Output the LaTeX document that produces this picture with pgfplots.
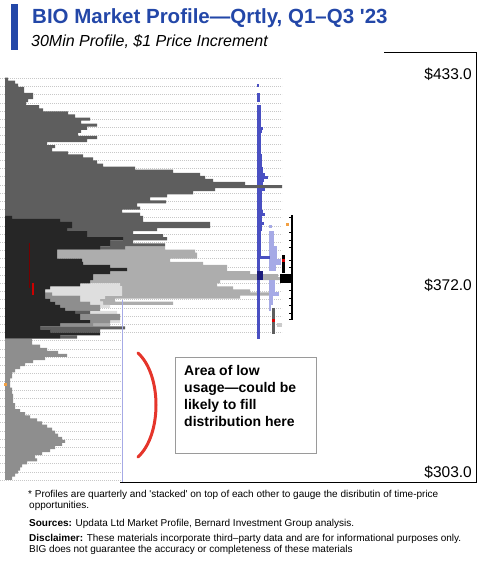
\documentclass[border=0pt]{standalone}
\usepackage{pgfplots}
\pgfplotsset{compat=1.18}
\usepackage{pgfplotstable}
\usepackage{fontspec}
\setmainfont{Liberation Sans}
\definecolor{titleblue}{HTML}{2347A8}
\definecolor{cB}{HTML}{262626}
\definecolor{cD}{HTML}{5E5E5E}
\definecolor{cM}{HTML}{8E8E8E}
\definecolor{cV}{HTML}{DEDEDE}
\definecolor{cL}{HTML}{ADADAD}
\definecolor{cBlue}{HTML}{4A50C2}
\definecolor{cNavy}{HTML}{1C1C7C}
\definecolor{cLBlue}{HTML}{A6AAE6}
\definecolor{gridc}{HTML}{C8C8C8}
\definecolor{boxgray}{HTML}{9A9A9A}
\definecolor{bracketred}{HTML}{E5352B}
\definecolor{orangedot}{HTML}{F2A043}

% profile rows: price, then segment lengths (px) black, dark, medium, very light, light
\pgfplotstableread{
p B D M V L
431 0 3 0 0 0
430 0 10 0 0 0
429 0 13 0 0 0
428 0 19 0 0 0
427 0 19 0 0 0
426 0 28 0 0 0
425 0 28 0 0 0
424 0 23 0 0 0
423 0 21 0 0 0
422 0 34 0 0 0
421 0 38 0 0 0
420 0 63 0 0 0
419 0 70 0 0 0
418 0 85 0 0 0
417 0 76 0 0 0
416 0 92 0 0 0
415 0 82 0 0 0
414 0 76 0 0 0
413 0 73 0 0 0
412 0 92 0 0 0
411 0 82 0 0 0
410 0 42 0 0 0
409 0 50 0 0 0
408 0 47 0 0 0
407 0 63 0 0 0
406 0 78 0 0 0
405 0 88 0 0 0
404 0 92 0 0 0
403 0 98 0 0 0
402 0 130 0 0 0
401 0 168 0 0 0
400 0 195 0 0 0
399 0 200 0 0 0
398 0 208 0 0 0
397 0 240 0 0 0
396 0 277 0 0 0
395 0 210 0 0 0
394 0 188 0 0 0
393 0 162 0 0 0
392 0 145 0 0 0
391 0 161 0 0 0
390 0 132 0 0 0
389 0 135 0 0 0
388 0 117 0 0 0
387 0 135 0 0 0
386 7 131 0 0 0
385 55 83 0 0 0
384 67 138 0 0 0
383 67 138 0 0 0
382 62 90 0 0 0
381 82 46 0 0 0
380 82 76 0 0 0
379 118 44 0 0 0
378 105 23 0 0 0
377 105 55 0 0 0
376 95 25 0 0 40
375 52 0 0 0 138
374 52 0 0 0 140
373 52 0 0 0 140
372 77 0 0 0 88
371 78 0 0 0 120
370 105 0 0 0 117
369 122 0 0 0 100
368 105 0 0 0 140
367 88 0 0 0 185
366 88 0 0 0 189
365 85 0 0 0 130
364 75 0 0 40 97
363 45 0 0 72 111
362 40 0 0 77 128
361 40 0 7 70 150
360 40 0 35 25 135
359 45 0 30 20 15
358 50 0 35 13 70
357 55 0 40 10 0
356 60 0 35 0 0
355 70 15 0 27 0
354 75 0 40 0 0
353 75 0 40 0 0
352 85 0 20 10 0
351 55 0 33 0 17
350 35 85 0 0 0
349 45 50 0 0 0
348 95 0 0 0 0
347 55 17 0 0 0
346 0 0 27 0 0
345 0 0 27 0 0
344 0 0 35 0 0
343 0 0 42 0 0
342 0 0 53 0 0
341 0 0 62 0 0
340 0 0 40 0 0
339 0 0 28 0 0
338 0 0 20 0 0
337 0 0 15 0 0
336 0 0 10 0 0
335 0 0 7 0 0
334 0 0 7 0 0
333 0 0 5 0 0
332 0 0 5 0 0
331 0 0 5 0 0
330 0 0 7 0 0
329 0 0 7 0 0
328 0 0 8 0 0
327 0 0 8 0 0
326 0 0 8 0 0
325 0 0 10 0 0
324 0 0 10 0 0
323 0 0 15 0 0
322 0 0 20 0 0
321 0 0 25 0 0
320 0 0 32 0 0
319 0 0 37 0 0
318 0 0 42 0 0
317 0 0 47 0 0
316 0 0 50 0 0
315 0 0 53 0 0
314 0 0 57 0 0
313 0 0 60 0 0
312 0 0 57 0 0
311 0 0 50 0 0
310 0 0 45 0 0
309 0 0 37 0 0
308 0 0 30 0 0
307 0 0 32 0 0
306 0 0 22 0 0
305 0 0 17 0 0
304 0 0 15 0 0
303 0 0 13 0 0
302 0 0 10 0 0
301 0 0 7 0 0
}\prof

\pgfplotstableread{
p x0 w
429 252 2
426 252 3
425 252 3
424 252 3
422 252 4
421 252 4
420 252 4
419 252 4
418 252 4
417 252 4
416 252 4
415 252 6
414 252 5
413 252 4
412 252 4
411 252 4
410 252 4
409 252 4
408 252 4
407 252 4
406 252 5
405 252 5
404 252 5
403 252 5
402 252 6
401 252 6
400 252 8
399 252 11
398 252 7
397 252 6
395 252 8
394 252 5
393 252 5
392 252 5
391 252 5
390 252 5
389 252 5
388 252 6
387 252 8
386 252 5
385 252 5
384 252 7
383 252 5
382 252 5
381 252 4
380 252 4
379 252 4
378 252 4
377 252 4
376 252 4
375 252 4
374 252 4
373 252 13
372 252 3
371 252 3
370 252 3
369 252 3
365 252 3
364 252 3
363 252 3
362 252 3
361 252 3
360 252 3
359 252 3
358 252 3
357 252 3
356 252 3
355 252 3
354 252 3
353 252 3
352 252 3
351 252 3
350 252 3
349 252 3
348 252 3
347 252 3
}\blu

\pgfplotstableread{
p x0 w
368 252 6
367 252 6
366 252 6
}\navy

\pgfplotstableread{
p x0 w
383 264 3
381 264 5
380 264 5
379 264 5
378 264 5
377 264 5
376 264 8
375 264 8
374 264 8
373 264 8
372 264 12
371 264 12
370 264 7
369 264 7
365 264 6
364 264 6
363 264 6
362 264 6
361 264 10
360 264 4
359 264 4
358 264 4
357 264 2
356 264 2
}\lblu

\pgfplotstableread{
p x0 w
386.1 284 3
381.2 284 3
378.6 284 3
376.3 284 3
372.1 284 3
369.8 284 3
362.3 284 3
359.7 284 3
357.4 284 3
354.8 284 3
352.9 284 3
}\tks

\pgfplotsset{base/.style={scale only axis, width=476pt, height=430pt,
  xmin=-5, xmax=471, ymin=299.77, ymax=439.84, hide axis, clip=false,
  at={(0pt,-482pt)}, anchor=south west},
  rowbar/.style={draw=none, mark=none, forget plot, error bars/.cd, x dir=plus, x explicit, error mark=none,
  error bar style={line width=3.07pt, draw=#1}}}

\begin{document}
\begin{tikzpicture}
\path[use as bounding box] (0,0) rectangle (490pt,-572pt);

% dotted guide lines
\begin{axis}[base]
\addplot[draw=none] coordinates {(0,300)};
\pgfplotsinvokeforeach{0,...,31}{
  \draw[gridc, dash pattern=on 0.8pt off 1.2pt, line width=0.5pt] (axis cs:-5,{431.27-2.671*#1}) -- (axis cs:277,{431.27-2.671*#1});}
\pgfplotsinvokeforeach{32,...,49}{
  \draw[gridc, dash pattern=on 0.8pt off 1.2pt, line width=0.5pt] (axis cs:-5,{431.27-2.671*#1}) -- (axis cs:117,{431.27-2.671*#1});}
\end{axis}

% stacked quarterly profiles
\begin{axis}[base, xbar stacked, bar width=1]
\addplot[fill=cB, draw=none] table[x=B, y=p] {\prof};
\addplot[fill=cD, draw=none] table[x=D, y=p] {\prof};
\addplot[fill=cM, draw=none] table[x=M, y=p] {\prof};
\addplot[fill=cV, draw=none] table[x=V, y=p] {\prof};
\addplot[fill=cL, draw=none] table[x=L, y=p] {\prof};
\end{axis}

% overlay: recent profile, markers, frame
\begin{axis}[base]
\addplot[rowbar=cLBlue] table[x=x0, y=p, x error=w] {\lblu};
\addplot[rowbar=cBlue] table[x=x0, y=p, x error=w] {\blu};
\addplot[rowbar=cNavy] table[x=x0, y=p, x error=w] {\navy};
\addplot[draw=none, mark=none, forget plot, error bars/.cd, x dir=plus, x explicit, error mark=none,
  error bar style={line width=0.6pt, draw=black}] table[x=x0, y=p, x error=w] {\tks};
% value-area line and markers
\addplot[black, line width=1.2pt] coordinates {(287,386.75) (287,352.55)};
\addplot[black, line width=3pt] coordinates {(278.5,373.7) (278.5,367.9)};
\addplot[black, line width=9pt] coordinates {(275,366.2) (287,366.2)};
\addplot[cD, line width=3pt] coordinates {(268.5,356.5) (268.5,348.0)};
\addplot[cV!80!gray, line width=4pt] coordinates {(272,351.0) (277,351.0)};
\addplot[only marks, mark=square*, mark size=1.1pt, red!85!black] coordinates {(278.5,372.1) (268.5,352.5)};
\addplot[only marks, mark=square*, mark size=1.1pt, orangedot] coordinates {(282,383.8) (0,331.7)};
\addplot[red!45!black, line width=0.8pt] coordinates {(24,377.6) (24,363.0)};
\addplot[red!80!black, line width=2.5pt] coordinates {(28,364.6) (28,360.7)};
\addplot[cLBlue, line width=0.6pt] coordinates {(117,359.1) (117,299.77)};
% frame
\addplot[black, line width=0.8pt] coordinates {(379,439.84) (471,439.84) (471,299.77) (115,299.77)};
\end{axis}

% title block
\fill[titleblue] (11pt,-4pt) rectangle (18pt,-50pt);
\node[anchor=base west, inner sep=0, text=titleblue] at (32pt,-23.5pt)
  {\fontsize{20.5}{24}\selectfont\bfseries BIO Market Profile---Qrtly, Q1--Q3 \textquotesingle23};
\node[anchor=base west, inner sep=0] at (31pt,-46.5pt)
  {\fontsize{16}{19}\selectfont\itshape 30Min Profile, \$1 Price Increment};

% price labels
\node[anchor=base east, inner sep=0] at (472pt,-79.5pt) {\fontsize{15.5}{18}\selectfont \$433.0};
\node[anchor=base east, inner sep=0] at (472pt,-290.5pt) {\fontsize{15.5}{18}\selectfont \$372.0};
\node[anchor=base east, inner sep=0] at (472pt,-477pt) {\fontsize{15.5}{18}\selectfont \$303.0};

% annotation
\draw[bracketred, line width=3pt, line cap=round] (138pt,-353pt) .. controls (162pt,-375pt) and (162pt,-435pt) .. (138pt,-457pt);
\draw[boxgray, line width=0.8pt, fill=white] (175pt,-357pt) rectangle (316pt,-453pt);
\node[anchor=base west, inner sep=0] at (184pt,-375pt) {\fontsize{14}{17}\selectfont\bfseries Area of low};
\node[anchor=base west, inner sep=0] at (184pt,-392pt) {\fontsize{14}{17}\selectfont\bfseries usage---could be};
\node[anchor=base west, inner sep=0] at (184pt,-409.5pt) {\fontsize{14}{17}\selectfont\bfseries likely to fill};
\node[anchor=base west, inner sep=0] at (184pt,-426.5pt) {\fontsize{14}{17}\selectfont\bfseries distribution here};

% notes
\node[anchor=base west, inner sep=0] at (28pt,-497pt) {\fontsize{10}{12}\selectfont * Profiles are quarterly and \textquotesingle stacked\textquotesingle{} on top of each other to gauge the disributin of time-price};
\node[anchor=base west, inner sep=0] at (29pt,-508.5pt) {\fontsize{10}{12}\selectfont opportunities.};
\node[anchor=base west, inner sep=0] at (29pt,-526.5pt) {\fontsize{10}{12}\selectfont \textbf{Sources:} Updata Ltd Market Profile, Bernard Investment Group analysis.};
\node[anchor=base west, inner sep=0] at (29pt,-541pt) {\fontsize{10}{12}\selectfont \textbf{Disclaimer:} These materials incorporate third--party data and are for informational purposes only.};
\node[anchor=base west, inner sep=0] at (29pt,-552.5pt) {\fontsize{10}{12}\selectfont BIG does not guarantee the accuracy or completeness of these materials};
\end{tikzpicture}
\end{document}
